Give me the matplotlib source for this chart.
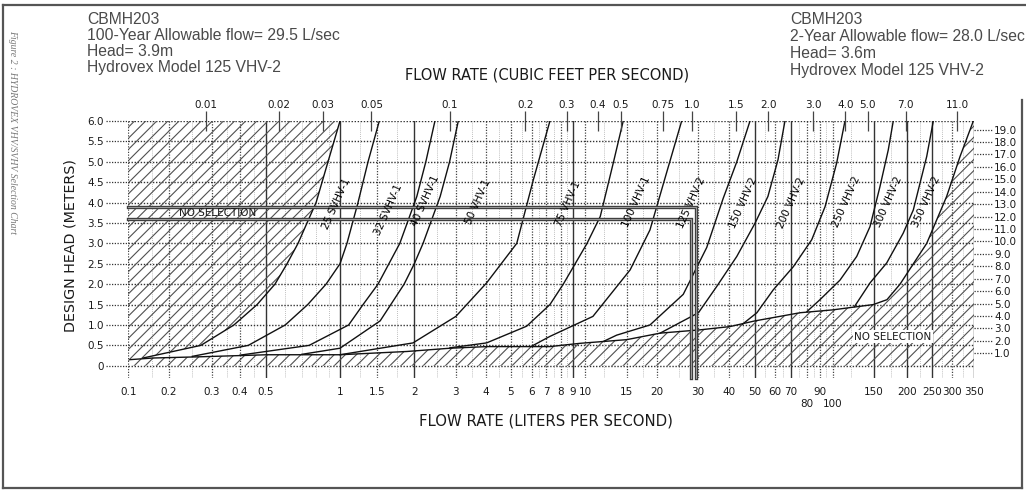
import numpy as np
import matplotlib
matplotlib.use('Agg')
import matplotlib.pyplot as plt
from matplotlib.patches import Rectangle
from matplotlib.ticker import NullLocator

# ---------------- data ----------------
# bottom axis: flow in L/s (nomogram tick values)
LPS_TICKS = [0.1, 0.2, 0.3, 0.4, 0.5, 1, 1.5, 2, 3, 4, 5, 6, 7, 8, 9, 10, 15, 20, 30,
             40, 50, 60, 70, 80, 90, 100, 150, 200, 250, 300, 350]
LPS_LABELS = ['0.1', '0.2', '0.3', '0.4', '0.5', '1', '1.5', '2', '3', '4', '5', '6', '7',
              '8', '9', '10', '15', '20', '30', '40', '50', '60', '70', '', '90', '',
              '150', '200', '250', '300', '350']
LOW_ROW_TICKS = [80, 100]          # labels printed on a second, lower row
LOW_ROW_LABELS = ['80', '100']
# top axis: flow in cubic feet per second
CFS_TICKS = [0.01, 0.02, 0.03, 0.05, 0.1, 0.2, 0.3, 0.4, 0.5, 0.75, 1.0, 1.5, 2.0, 3.0,
             4.0, 5.0, 7.0, 11.0]
CFS_LABELS = ['0.01', '0.02', '0.03', '0.05', '0.1', '0.2', '0.3', '0.4', '0.5', '0.75',
              '1.0', '1.5', '2.0', '3.0', '4.0', '5.0', '7.0', '11.0']
CFS_TO_LPS = 28.3168
# left axis: head in metres, right axis: head in feet
M_TICKS = [0, 0.5, 1.0, 1.5, 2.0, 2.5, 3.0, 3.5, 4.0, 4.5, 5.0, 5.5, 6.0]
M_LABELS = ['0', '0.5', '1.0', '1.5', '2.0', '2.5', '3.0', '3.5', '4.0', '4.5', '5.0',
            '5.5', '6.0']
FT_TICKS = list(range(1, 20))
FT_LABELS = ['%.1f' % v for v in FT_TICKS]
M_PER_FT = 0.3048

# valve curves (flow L/s, head m)
Q_25 = [0.129, 0.271, 0.376, 0.464, 0.545, 0.61, 0.676, 0.735, 0.80, 0.894, 1.0]
H_25 = [0.19, 0.5, 1.0, 1.5, 2.0, 2.5, 3.0, 3.5, 4.0, 5.0, 6.0]
Q_32 = [0.25, 0.43, 0.60, 0.74, 0.878, 1.0, 1.08, 1.22, 1.363, 1.53]
H_32 = [0.23, 0.5, 1.0, 1.5, 2.0, 2.5, 3.0, 4.0, 5.0, 6.0]
Q_40 = [0.40, 0.75, 1.1, 1.29, 1.515, 1.79, 2.05, 2.24, 2.45]
H_40 = [0.26, 0.5, 1.0, 1.5, 2.0, 3.0, 4.15, 5.0, 6.0]
Q_50 = [0.7, 1.0, 1.54, 1.85, 2.0, 2.18, 2.58, 2.83, 3.08]
H_50 = [0.28, 0.43, 1.1, 2.0, 2.5, 3.0, 4.15, 5.0, 6.0]
Q_75 = [1.0, 1.98, 3.01, 4.02, 5.26, 6.1, 7.25]
H_75 = [0.27, 0.56, 1.21, 2.03, 3.0, 4.55, 6.0]
Q_100 = [2.84, 4.02, 5.74, 7.25, 8.18, 10.2, 11.6, 13.2, 14.5]
H_100 = [0.44, 0.56, 0.97, 1.5, 2.0, 3.0, 3.66, 5.0, 6.0]
Q_125 = [6.0, 7.25, 10.8, 15.5, 18.75, 22.1, 25.6]
H_125 = [0.48, 0.72, 1.21, 2.35, 3.33, 4.75, 6.0]
Q_150 = [12.0, 13.6, 18.75, 26.0, 32.6, 37.9, 42.8, 48.0]
H_150 = [0.6, 0.75, 1.0, 1.75, 2.9, 4.1, 5.0, 6.0]
Q_200 = [20.7, 30.2, 35.7, 42.8, 50.2, 56.4, 61.9, 66.1]
H_200 = [0.8, 1.3, 1.94, 2.68, 3.5, 4.15, 5.05, 6.0]
Q_250 = [45, 51, 59.2, 71.4, 83.6, 94.0, 104, 112.9]
H_250 = [1.02, 1.3, 1.86, 2.43, 3.09, 3.9, 4.97, 6.0]
Q_300 = [80, 90.2, 107.5, 126.8, 144.6, 158.4, 170.3, 177.9]
H_300 = [1.33, 1.62, 2.1, 2.68, 3.41, 4.39, 5.29, 6.0]
Q_350 = [124, 144.6, 168, 194, 212, 238.6, 253]
H_350 = [1.45, 2.03, 2.52, 3.25, 3.82, 5.13, 6.0]

CURVE_NAMES = ['25 SVHV-1', '32 SVHV-1', '40 SVHV-1', '50 VHV-1', '75 VHV-1', '100 VHV-1',
               '125 VHV-2', '150 VHV-2', '200 VHV-2', '250 VHV-2', '300 VHV-2', '350 VHV-2']
LABEL_Q = [0.97, 1.64, 2.22, 3.71, 8.6, 16.5, 28.1, 45.5, 70.5, 114, 171, 237]
LABEL_H = [3.97, 3.82, 4.04, 4.02, 3.97, 4.02, 4.0, 4.0, 4.0, 4.02, 4.02, 4.02]

# lower "no selection" boundary (flow L/s, head m)
Q_BAND = [0.103, 0.153, 0.269, 0.506, 1.0, 1.89, 2.84, 4.04, 7.25, 9.57, 15.0, 20.7,
          30.6, 40.3, 50.1, 75.5, 100, 149.4, 168.4, 188.7, 238.6, 285.7, 317.4, 348.4]
H_BAND = [0.15, 0.19, 0.22, 0.27, 0.27, 0.35, 0.43, 0.47, 0.47, 0.55, 0.64, 0.8, 0.88,
          0.96, 1.1, 1.3, 1.37, 1.5, 1.62, 2.0, 3.0, 4.15, 5.13, 6.0]

# design points
FLOW_100YR, HEAD_100YR = 29.5, 3.9
FLOW_2YR, HEAD_2YR = 28.0, 3.6

# ---------------- nomogram flow scale ----------------
SCALE_POS = [128.3, 168.5, 211.7, 240, 265.7, 340, 376.7, 414.3, 455.5, 486, 511, 531.7,
             546, 561, 573, 585, 626.7, 656.7, 697.7, 729, 754.7, 774.7, 791, 807, 819.7,
             832.7, 873.7, 906.7, 932, 952, 974]
_lq = np.log10(LPS_TICKS)
_p = np.array(SCALE_POS, float)
_s0 = (_p[1] - _p[0]) / (_lq[1] - _lq[0])
_s1 = (_p[-1] - _p[-2]) / (_lq[-1] - _lq[-2])


def _fwd(q):
    l = np.log10(np.clip(np.asarray(q, float), 1e-9, None))
    out = np.interp(l, _lq, _p)
    out = np.where(l < _lq[0], _p[0] + (l - _lq[0]) * _s0, out)
    out = np.where(l > _lq[-1], _p[-1] + (l - _lq[-1]) * _s1, out)
    return out


def _inv(p):
    p = np.asarray(p, float)
    l = np.interp(p, _p, _lq)
    l = np.where(p < _p[0], _lq[0] + (p - _p[0]) / _s0, l)
    l = np.where(p > _p[-1], _lq[-1] + (p - _p[-1]) / _s1, l)
    return 10 ** l


# ---------------- figure ----------------
W, Hh = 1026, 492
fig = plt.figure(figsize=(W / 100, Hh / 100), dpi=100)
fig.patch.set_facecolor('white')


def fx(px):
    return px / W


def fy(py):
    return 1 - py / Hh


YMIN, YMAX = -0.3, 6.0
ax_left, ax_right, ax_top, ax_bot = 128.3, 974, 121, 378
ax = fig.add_axes([fx(ax_left), fy(ax_bot), (ax_right - ax_left) / W, (ax_bot - ax_top) / Hh])
ax.set_xscale('function', functions=(_fwd, _inv))
ax.set_xlim(0.1, 350)
ax.set_ylim(YMIN, YMAX)
for s in ax.spines.values():
    s.set_visible(False)
ax.set_facecolor('none')

TXT = '#1a1a1a'
plt.rcParams['hatch.linewidth'] = 0.8

# minor texture grid
MINOR_Q = [0.15, 0.25, 0.35, 0.45, 0.6, 0.7, 0.8, 0.9, 1.25, 1.75, 2.5, 3.5, 4.5, 5.5, 6.5,
           7.5, 8.5, 12, 17.5, 25, 35, 45, 55, 65, 75, 85, 95, 120, 175, 225, 275, 325]
for q in MINOR_Q:
    ax.axvline(q, color='#a8a8a8', lw=0.6, ls=(0, (1, 1.5)), zorder=1)

SOLID_Q = [0.5, 1, 2, 9, 50, 70, 150, 200, 250, 350]
for q in LPS_TICKS:
    if q in SOLID_Q:
        ax.axvline(q, color='#333333', lw=1.0, zorder=2)
    else:
        ax.axvline(q, color='#444444', lw=0.9, ls=(0, (1, 1.2)), zorder=2)

for h in M_TICKS:
    ax.axhline(h, color='#333333', lw=1.0, ls=(0, (1, 1.2)), zorder=2)
    ax.plot([-(ax_left - 106) / (ax_right - ax_left), 0], [h, h],
            transform=ax.get_yaxis_transform(), color='#333333', lw=0.9,
            ls=(0, (1, 1.2)), clip_on=False)

# hatched "no selection" areas
ul_q = [0.1] + Q_25[::-1] + [Q_BAND[0], 0.1]
ul_h = [6.0] + H_25[::-1] + [H_BAND[0], H_BAND[0]]
ax.fill(ul_q, ul_h, fill=False, hatch='///', edgecolor='#505050', lw=0, zorder=3)
band_q = Q_BAND + [350, 350, 0.1, 0.1]
band_h = H_BAND + [6.0, 0.0, 0.0, H_BAND[0]]
ax.fill(band_q, band_h, fill=False, hatch='///', edgecolor='#505050', lw=0, zorder=3)
ax.plot(Q_BAND, H_BAND, color='#111111', lw=1.0, zorder=4)

# valve curves
curves = [(Q_25, H_25), (Q_32, H_32), (Q_40, H_40), (Q_50, H_50), (Q_75, H_75),
          (Q_100, H_100), (Q_125, H_125), (Q_150, H_150), (Q_200, H_200),
          (Q_250, H_250), (Q_300, H_300), (Q_350, H_350)]
for (q, h) in curves:
    ax.plot(q, h, color='#111111', lw=1.0, zorder=4)
for name, q, h in zip(CURVE_NAMES, LABEL_Q, LABEL_H):
    ax.text(q, h, name, rotation=66, rotation_mode='anchor', ha='center', va='center',
            fontsize=7.5, color='black', zorder=6)

# design selection lines
for (qd, hd) in [(FLOW_100YR, HEAD_100YR), (FLOW_2YR, HEAD_2YR)]:
    ax.plot([0.1, qd, qd], [hd, hd, YMIN], color='#3a3a3a', lw=2.4, zorder=5,
            solid_joinstyle='miter', clip_on=False)
    ax.plot([0.1, qd, qd], [hd, hd, YMIN], color='#9a9a9a', lw=0.8, zorder=5,
            solid_joinstyle='miter', clip_on=False)

ax.text(0.32, 3.75, 'NO SELECTION', fontsize=7.5, color=TXT, ha='center', va='center',
        zorder=6)
ax.text(177.6, 0.71, 'NO SELECTION', fontsize=7.5, color=TXT, ha='center', va='center',
        zorder=6, bbox=dict(facecolor='white', edgecolor='none', pad=1.0))

# bottom ticks
ax.set_xticks(LPS_TICKS, LPS_LABELS)
ax.xaxis.set_minor_locator(NullLocator())
ax.tick_params(axis='x', length=0, pad=6.5, labelsize=7.5, labelcolor=TXT)
for q, lab in zip(LOW_ROW_TICKS, LOW_ROW_LABELS):
    ax.text(q, -(404 - ax_bot) / (ax_bot - ax_top), lab, transform=ax.get_xaxis_transform(),
            ha='center', va='center', fontsize=7.5, color=TXT)
# left ticks
ax.set_yticks(M_TICKS, M_LABELS)
ax.tick_params(axis='y', length=0, pad=(ax_left - 104) * 0.72, labelsize=7.5, labelcolor=TXT)

# top (cfs) axis on the same nomogram scale
ax2 = ax.twiny()
ax2.set_xscale('function', functions=(_fwd, _inv))
ax2.set_xlim(ax.get_xlim())
ax2.set_xticks([c * CFS_TO_LPS for c in CFS_TICKS], CFS_LABELS)
ax2.xaxis.set_minor_locator(NullLocator())
ax2.tick_params(axis='x', direction='inout', length=15, width=0.9, color='#444444',
                pad=0.5, labelsize=7.5, labelcolor=TXT)
ax2.tick_params(axis='y', left=False, labelleft=False)
for s in ax2.spines.values():
    s.set_visible(False)

# right (feet) axis
ax3 = ax.twinx()
ax3.set_ylim(YMIN / M_PER_FT, YMAX / M_PER_FT)
ax3.set_yticks(FT_TICKS, FT_LABELS)
ax3.tick_params(axis='y', length=0, pad=(994 - ax_right) * 0.72, labelsize=7.5,
                labelcolor=TXT)
for s in ax3.spines.values():
    s.set_visible(False)
for ft in FT_TICKS:
    ax3.plot([1, 1 + (992 - ax_right) / (ax_right - ax_left)], [ft, ft],
             transform=ax3.get_yaxis_transform(), color='#333333', lw=0.9,
             ls=(0, (1, 1.2)), clip_on=False)

# titles
fig.text(fx(70), fy(245), 'DESIGN HEAD (METERS)', rotation=90, ha='center', va='center',
         fontsize=10.3, color=TXT)
fig.text(fx(546), fy(421), 'FLOW RATE (LITERS PER SECOND)', ha='center', va='center',
         fontsize=10.7, color=TXT)
fig.text(fx(547), fy(75), 'FLOW RATE (CUBIC FEET PER SECOND)', ha='center', va='center',
         fontsize=10.5, color=TXT)

hdr = dict(fontsize=11.3, color='#4a4a4a', family='Liberation Sans', ha='left', va='center')
left_lines = ['CBMH203', '100-Year Allowable flow= 29.5 L/sec', 'Head= 3.9m',
              'Hydrovex Model 125 VHV-2']
right_lines = ['CBMH203', '2-Year Allowable flow= 28.0 L/sec', 'Head= 3.6m',
               'Hydrovex Model 125 VHV-2']
for i, (a, b) in enumerate(zip(left_lines, right_lines)):
    fig.text(fx(87), fy(19 + 16.2 * i), a, **hdr)
    fig.text(fx(790), fy(20 + 16.7 * i), b, **hdr)

fig.text(fx(13), fy(30), 'Figure 2 : HYDROVEX VHV/SVHV Selection Chart', rotation=-90,
         ha='center', va='top', fontsize=7, style='italic', family='Liberation Serif',
         color='#777777')

# page border (left, top, bottom; the right edge is open as in the scan)
for xs, ys in [([3, 3], [5, 488]), ([3, 1026], [5, 5]), ([3, 1022], [488, 488]),
               ([1022, 1022], [100, 488])]:
    fig.add_artist(plt.Line2D([fx(v) for v in xs], [fy(v) for v in ys],
                              transform=fig.transFigure, color='#555555', lw=1.6))

fig.savefig('out.png', dpi=100)
